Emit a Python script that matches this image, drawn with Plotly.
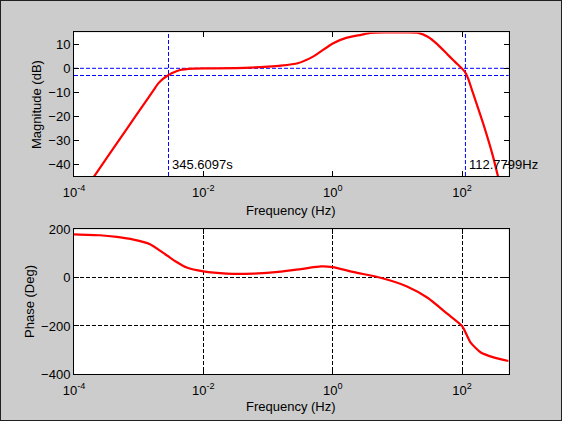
import math
import plotly.graph_objects as go

# magnitude response (Hz, dB)
mag_freq = [1.905e-4, 3.565e-4, 6.52e-4, 1.175e-3, 1.722e-3, 2.01e-3, 2.40e-3, 2.71e-3,
            3.236e-3, 4.365e-3, 6.92e-3, 0.01, 0.0316, 0.1, 0.158, 0.288, 0.513, 1.0, 1.66,
            2.75, 3.8, 6.3, 10.0, 20.4, 29.5, 41.7, 59.6, 72.6, 85.1, 110.2, 123.9, 147.9,
            211.3, 301.0, 360.0, 398.0]
mag_db = [-46.4, -35.7, -25.4, -15.4, -8.9, -6.3, -4.3, -3.3,
          -2.1, -0.7, -0.1, 0.0, 0.05, 0.7, 1.1, 2.1, 5.1, 10.4, 12.8,
          14.0, 14.8, 15.0, 15.0, 14.9, 13.2, 10.0, 5.8, 3.5, 1.7, -1.4, -4.2, -10.4,
          -22.9, -36.8, -45.2, -49.0]

# phase response (Hz, deg)
ph_freq = [1e-4, 2.51e-4, 4.57e-4, 8.32e-4, 1.496e-3, 2.71e-3, 3.86e-3, 5.52e-3, 0.01,
           0.0229, 0.0589, 0.158, 0.324, 0.661, 1.0, 2.14, 5.5, 14.1, 29.3, 59.6,
           100.0, 134.9, 195.0, 316.0, 525.0]
ph_deg = [180, 176, 169, 158, 139, 93, 65, 42, 26,
          17, 17, 25, 36, 47, 44, 23, 0, -36, -83, -150,
          -200, -268, -310, -331, -345]

low_cut_s = 345.6097
high_cut_hz = 112.7799
cut_db = -3

x_ticks = [1e-4, 1e-2, 1, 1e2]
x_ticktext = ["10<sup>-4</sup>", "10<sup>-2</sup>", "10<sup>0</sup>", "10<sup>2</sup>"]

FONT = dict(family="Liberation Sans, Arial, sans-serif", size=13, color="black")
RED = "#FF0000"
BLUE = "#0000FF"
DASH = "4px,2px"

fig = go.Figure()
fig.add_trace(go.Scatter(x=mag_freq, y=mag_db, mode="lines", line=dict(color=RED, width=2.2, shape="spline", smoothing=0.5),
                         xaxis="x", yaxis="y", showlegend=False))
fig.add_trace(go.Scatter(x=ph_freq, y=ph_deg, mode="lines", line=dict(color=RED, width=2.2, shape="spline", smoothing=0.6),
                         xaxis="x2", yaxis="y2", showlegend=False))

low_cut_hz = 1 / low_cut_s
for xv in [low_cut_hz, high_cut_hz]:
    fig.add_shape(type="line", xref="x", yref="y domain", x0=xv, x1=xv, y0=0, y1=1,
                  line=dict(color=BLUE, width=1, dash=DASH), layer="below")
for yv in [0, cut_db]:
    fig.add_shape(type="line", xref="x domain", yref="y", x0=0, x1=1, y0=yv, y1=yv,
                  line=dict(color=BLUE, width=1, dash=DASH), layer="below")

# annotations on a log axis take log10 positions
fig.add_annotation(x=math.log10(low_cut_hz), y=-40, xref="x", yref="y", text=f"{low_cut_s}s", showarrow=False,
                   xanchor="left", xshift=1, font=FONT)
fig.add_annotation(x=math.log10(high_cut_hz), y=-40, xref="x", yref="y", text=f"{high_cut_hz}Hz", showarrow=False,
                   xanchor="left", xshift=2, font=FONT)

# axis titles placed by hand
titles = [("Magnitude (dB)", 0.0658, 0.753, -90), ("Phase (Deg)", 0.0534, 0.2827, -90),
          ("Frequency (Hz)", 0.518, 0.4995, 0), ("Frequency (Hz)", 0.518, 0.034, 0)]
for txt, px, py, ang in titles:
    fig.add_annotation(x=px, y=py, xref="paper", yref="paper", text=txt, showarrow=False,
                       textangle=ang, xanchor="center", yanchor="middle", font=FONT)

# window frame
fig.add_shape(type="rect", xref="paper", yref="paper", x0=0, x1=1, y0=0, y1=1,
              line=dict(color="#202020", width=2))

axis_common = dict(showline=True, linecolor="black", linewidth=1, mirror="ticks", ticks="inside",
                   ticklen=5, tickcolor="black", tickfont=FONT, zeroline=False, automargin=False)

fig.update_layout(
    width=562, height=421,
    paper_bgcolor="#CCCCCC", plot_bgcolor="white",
    margin=dict(l=0, r=0, t=0, b=0, pad=0),
    font=FONT,
    xaxis=dict(type="log", domain=[0.1317, 0.905], anchor="y", range=[-4, 2.72],
               tickvals=x_ticks, ticktext=x_ticktext, showgrid=False, ticklabelstandoff=4, **axis_common),
    yaxis=dict(domain=[0.582, 0.923], anchor="x", range=[-45, 15], tickvals=[-40, -30, -20, -10, 0, 10],
               showgrid=False, **axis_common),
    xaxis2=dict(type="log", domain=[0.1317, 0.905], anchor="y2", range=[-4, 2.72],
                tickvals=x_ticks, ticktext=x_ticktext, showgrid=True, gridcolor="black", griddash=DASH, gridwidth=1,
                ticklabelstandoff=4, **axis_common),
    yaxis2=dict(domain=[0.111, 0.455], anchor="x2", range=[-400, 200], tickvals=[-400, -200, 0, 200],
                showgrid=True, gridcolor="black", griddash=DASH, gridwidth=1, **axis_common),
)

fig.write_html("out.html", config={"displayModeBar": False},
               post_script="document.body.style.margin = '0px';")
